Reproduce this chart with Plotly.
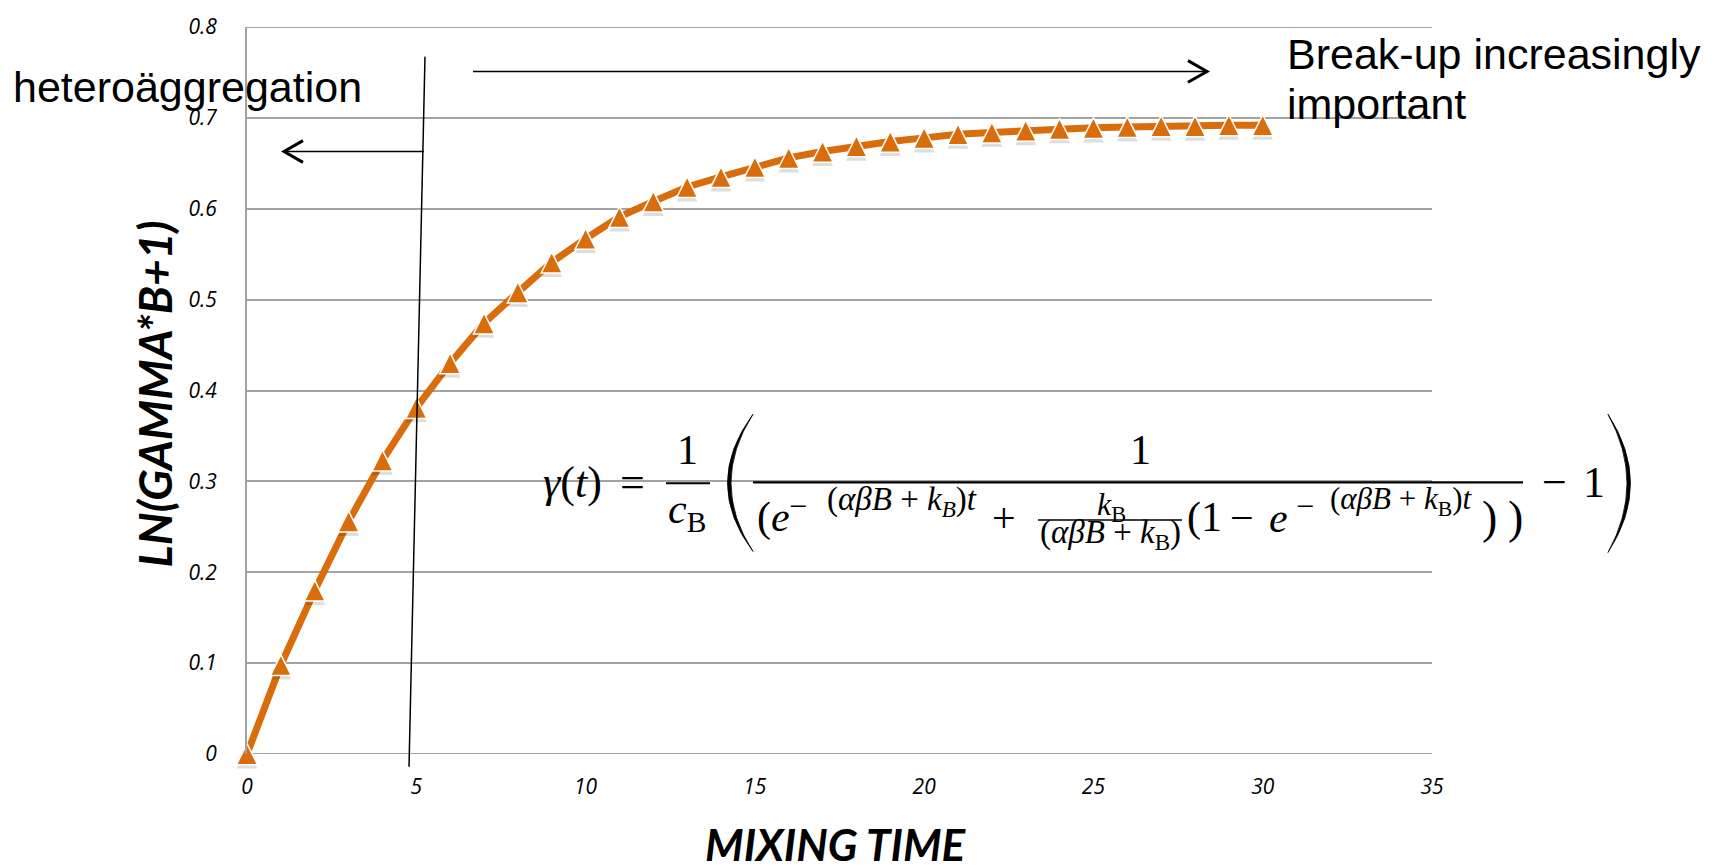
import plotly.graph_objects as go

# ---------------- data ----------------
mixing_time = list(range(31))
ln_gamma_b = [0.000, 0.098, 0.180, 0.256, 0.323, 0.381, 0.430, 0.474, 0.508, 0.541,
              0.567, 0.591, 0.608, 0.624, 0.635, 0.646, 0.656, 0.663, 0.669, 0.674,
              0.678, 0.682, 0.684, 0.686, 0.688, 0.689, 0.690, 0.691, 0.691, 0.692,
              0.692]
x_tick_vals = [0, 5, 10, 15, 20, 25, 30, 35]
x_tick_text = ["0", "5", "10", "15", "20", "25", "30", "35"]
y_tick_vals = [0, 0.1, 0.2, 0.3, 0.4, 0.5, 0.6, 0.7, 0.8]
y_tick_text = ["0", "0.1", "0.2", "0.3", "0.4", "0.5", "0.6", "0.7", "0.8"]

# ---------------- layout geometry (pixels) ----------------
W, H = 1720, 866
L, R, T, B = 247, 1432, 18, 754
PW, PH = R - L, B - T
X_RANGE = [0, 35]
Y_RANGE = [0, 0.8]
MARKER_SIZE = 21
SHADOW_PX = 4
per_px = (Y_RANGE[1] - Y_RANGE[0]) / PH
marker_shift = (MARKER_SIZE / 2) * per_px          # centre arrow-shaped triangles
shadow_shift = (MARKER_SIZE / 2 - SHADOW_PX) * per_px

ORANGE = "#D96C0B"
GRID = "#A3A3A3"


def px(x):
    return (x - L) / PW


def py(y):
    return (B - y) / PH


fig = go.Figure()

# line
fig.add_trace(go.Scatter(
    x=mixing_time, y=ln_gamma_b, mode="lines",
    line=dict(color=ORANGE, width=7),
    showlegend=False, cliponaxis=False, hoverinfo="skip"))
# marker shadows
fig.add_trace(go.Scatter(
    x=mixing_time, y=ln_gamma_b, yaxis="y2", mode="markers",
    marker=dict(symbol="arrow-up", size=MARKER_SIZE, color="rgba(0,0,0,0.13)"),
    hoverinfo="skip", showlegend=False, cliponaxis=False))
# markers
fig.add_trace(go.Scatter(
    x=mixing_time, y=ln_gamma_b, yaxis="y3", mode="markers",
    marker=dict(symbol="arrow-up", size=MARKER_SIZE, color=ORANGE,
                line=dict(color="white", width=1.5)),
    showlegend=False, cliponaxis=False))

annotations = []


def ann(text, x, y, size, family, xanchor="left", color="#000", font=None, **kw):
    f = dict(family=family, size=size, color=color)
    if font:
        f.update(font)
    annotations.append(dict(
        text=text, x=px(x), y=py(y), xref="paper", yref="paper",
        xanchor=xanchor, yanchor="middle", showarrow=False, font=f, **kw))


SANS = "Liberation Sans"
SERIF = "Liberation Serif"
CAL = "Lato"

ann("heteroäggregation", 11, 79, 43, SANS)
ann("Break-up increasingly", 1285, 45, 43, SANS)
ann("important", 1285, 96, 43, SANS)

# axis titles
ann("LN(GAMMA*B+1)", 154, 390, 46, CAL, xanchor="center", textangle=-90,
    font=dict(weight="bold", style="italic"))
ann("MIXING TIME", 836, 845, 44, CAL, xanchor="center", height=42,
    font=dict(weight="bold", style="italic"))

# formula
EXP1 = "(<i>αβB</i> + <i>k</i><sub><i>B</i></sub>)<i>t</i>"
EXP2 = "(<i>αβB</i> + <i>k</i><sub>B</sub>)<i>t</i>"

ann("<i>γ</i>(<i>t</i>)", 541, 479, 44, SERIF)
ann("=", 632, 479, 44, SERIF, xanchor="center")
ann("1", 687, 446, 42, SERIF, xanchor="center")
ann("<i>c</i><sub>B</sub>", 687, 509, 42, SERIF, xanchor="center")
ann("1", 1140, 446, 42, SERIF, xanchor="center")
ann("(<i>e</i>", 755, 515, 42, SERIF)
ann("−", 798, 503, 32, SERIF, xanchor="center")
ann(EXP1, 825, 498, 33, SERIF)
ann("+", 1004, 515, 42, SERIF, xanchor="center")
ann("<i>k</i><sub>B</sub>", 1111, 503, 32, SERIF, xanchor="center")
ann("(<i>αβB</i> + <i>k</i><sub>B</sub>)", 1110, 532, 33, SERIF, xanchor="center")
ann("(1", 1185, 515, 42, SERIF)
ann("−", 1242, 515, 42, SERIF, xanchor="center")
ann("<i>e</i>", 1267, 515, 42, SERIF)
ann("−", 1305, 503, 32, SERIF, xanchor="center")
ann(EXP2, 1328, 498, 31, SERIF)
ann(")", 1489, 515, 46, SERIF, xanchor="center")
ann(")", 1515, 515, 46, SERIF, xanchor="center")
ann("−", 1554, 479, 44, SERIF, xanchor="center")
ann("1", 1594, 479, 44, SERIF, xanchor="center")

shapes = []

# top / bottom horizontal grid lines (edge lines)
for yv in (Y_RANGE[0], Y_RANGE[1]):
    shapes.append(dict(type="line", xref="paper", yref="y", x0=0, x1=1, y0=yv, y1=yv,
                       line=dict(color=GRID, width=2), layer="below"))


def seg(x0, y0, x1, y1, width=1.5):
    shapes.append(dict(type="line", xref="paper", yref="paper",
                       x0=px(x0), y0=py(y0), x1=px(x1), y1=py(y1),
                       line=dict(color="black", width=width), layer="above"))


def path(points, closed=False, fill=None, width=2.5):
    d = ""
    for cmd, pts in points:
        d += cmd + " ".join(f"{px(a):.5f},{py(b):.5f}" for a, b in pts) + " "
    if closed:
        d += "Z"
    shapes.append(dict(type="path", xref="paper", yref="paper", path=d,
                       line=dict(color="black", width=width),
                       fillcolor=fill if fill else "rgba(0,0,0,0)", layer="above"))


# vertical divider
seg(425, 48, 409, 767, 1.5)
# left arrow
seg(424, 144, 284, 144, 1.5)
path([("M", [(303, 133)]), ("L", [(284, 144)]), ("L", [(303, 155)])], width=3)
# right arrow
seg(473, 63, 1207, 63, 1.5)
path([("M", [(1188, 52)]), ("L", [(1207, 63)]), ("L", [(1188, 74)])], width=3)

# fraction bars
seg(666, 480, 710, 480, 2)
seg(753, 479, 1523, 479, 2.2)
seg(1038, 517, 1182, 517, 1.5)

# big parentheses
path([("M", [(753, 410)]), ("Q", [(702, 480), (753, 549)]),
      ("Q", [(709, 480), (753, 410)])], closed=True, fill="black", width=0.8)
path([("M", [(1608, 410)]), ("Q", [(1653, 480), (1608, 550)]),
      ("Q", [(1646, 480), (1608, 410)])], closed=True, fill="black", width=0.8)

tickfont = dict(family="Open Sans", size=21, color="black", style="italic")

fig.update_layout(
    width=W, height=H,
    margin=dict(l=L, r=W - R, t=T, b=H - B, pad=0),
    paper_bgcolor="white", plot_bgcolor="white",
    xaxis=dict(range=X_RANGE, tickvals=x_tick_vals, ticktext=x_tick_text,
               showgrid=False, zeroline=False, showline=False, ticks="",
               tickfont=tickfont, ticklabelstandoff=18),
    yaxis=dict(range=Y_RANGE, tickvals=y_tick_vals, ticktext=y_tick_text,
               showgrid=True, gridcolor=GRID, gridwidth=2, zeroline=False,
               showline=True, linecolor=GRID, linewidth=2, ticks="",
               tickfont=tickfont, ticklabelstandoff=24),
    yaxis2=dict(range=[Y_RANGE[0] - shadow_shift, Y_RANGE[1] - shadow_shift],
                overlaying="y", visible=False),
    yaxis3=dict(range=[Y_RANGE[0] - marker_shift, Y_RANGE[1] - marker_shift],
                overlaying="y", visible=False),
    annotations=annotations,
    shapes=shapes,
)

fig.write_html("out.html", config={"displayModeBar": False})
